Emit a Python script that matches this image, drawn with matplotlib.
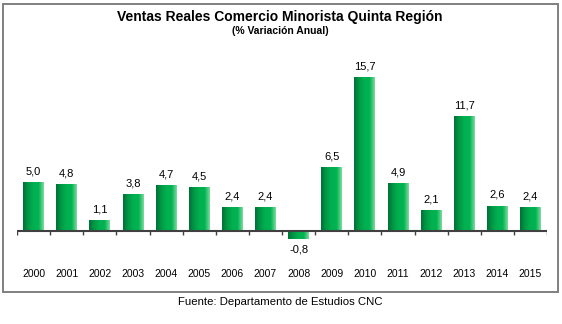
import numpy as np
import matplotlib
matplotlib.use("Agg")
import matplotlib.pyplot as plt
from matplotlib.colors import LinearSegmentedColormap
from matplotlib.patches import Rectangle

years = ["2000", "2001", "2002", "2003", "2004", "2005", "2006", "2007",
         "2008", "2009", "2010", "2011", "2012", "2013", "2014", "2015"]
values = [5.0, 4.8, 1.1, 3.8, 4.7, 4.5, 2.4, 2.4, -0.8, 6.5, 15.7, 4.9, 2.1, 11.7, 2.6, 2.4]

title = "Ventas Reales Comercio Minorista Quinta Región"
subtitle = "(% Variación Anual)"
source = "Fuente: Departamento de Estudios CNC"

plt.rcParams['font.family'] = ['Liberation Sans', 'DejaVu Sans']

W, H = 562, 324
fig = plt.figure(figsize=(W / 100, H / 100), dpi=100)

# outer border box
fig.patches.append(Rectangle((3 / W, 1 - 292 / H), 555 / W, 288 / H, transform=fig.transFigure,
                             fill=False, edgecolor='#808080', linewidth=1.4))

ax = fig.add_axes([17 / W, 1 - 260.4 / H, 530 / W, (260.4 - 59.5) / H])
ax.set_xlim(-0.5, len(years) - 0.5)
ax.set_ylim(-3.0, 17.5)
for s in ax.spines.values():
    s.set_visible(False)
ax.set_yticks([])
ax.set_xticks(np.arange(len(years)))
ax.set_xticklabels(years, fontsize=7.5)
ax.tick_params(axis='x', length=0, pad=6)

cmap = LinearSegmentedColormap.from_list('g', ['#006f38', '#009a45', '#00b050', '#00b352', '#7fdc9f'])
grad = np.linspace(0, 1, 256).reshape(1, -1)
x = np.arange(len(years))
bars = ax.bar(x, values, width=0.63, color='none', edgecolor='none', zorder=2)
for b in bars:
    x0, w = b.get_x(), b.get_width()
    y0, h = b.get_y(), b.get_height()
    im = ax.imshow(grad, cmap=cmap, extent=[x0, x0 + w, min(y0, y0 + h), max(y0, y0 + h)],
                   aspect='auto', zorder=2, interpolation='bilinear')
    im.set_clip_path(b)

ax.axhline(0, color='#404040', linewidth=1.5, zorder=3)
bounds = np.arange(len(years) + 1) - 0.5
ax.vlines(bounds, -0.4, 0, color='#404040', linewidth=1.0, zorder=3)

for xi, v in zip(x, values):
    lab = f"{v:.1f}".replace('.', ',')
    if v >= 0:
        ax.annotate(lab, (xi, v), xytext=(0, 4), textcoords='offset points',
                    ha='center', va='bottom', fontsize=8)
    else:
        ax.annotate(lab, (xi, v), xytext=(0, -4), textcoords='offset points',
                    ha='center', va='top', fontsize=8)

fig.text(280 / W, 1 - 17 / H, title, ha='center', va='center', fontsize=10, fontweight='bold')
fig.text(280 / W, 1 - 31 / H, subtitle, ha='center', va='center', fontsize=7.5, fontweight='bold')
fig.text(280 / W, 1 - 302 / H, source, ha='center', va='center', fontsize=8.2)

fig.savefig("out.png", dpi=100)
